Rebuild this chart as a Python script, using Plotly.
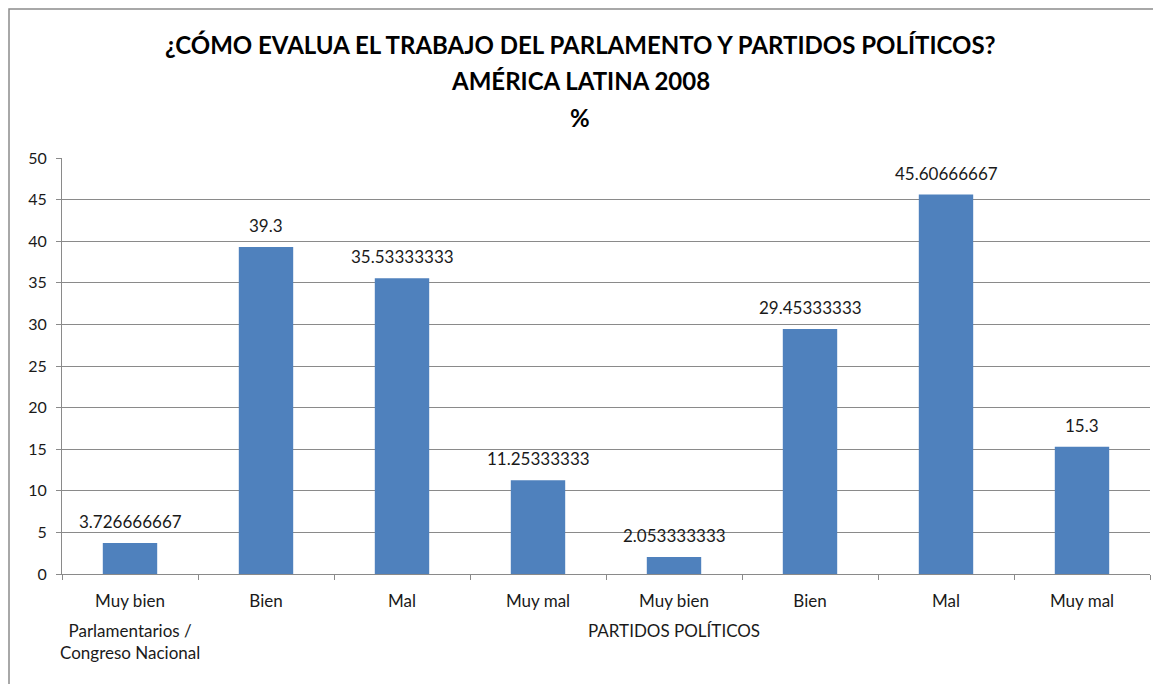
import plotly.graph_objects as go

# ---- data ----
groups = ["Parlamentarios /<br>Congreso Nacional"] * 4 + ["PARTIDOS POLÍTICOS"] * 4
ratings = ["Muy bien", "Bien", "Mal", "Muy mal", "Muy bien", "Bien", "Mal", "Muy mal"]
values = [3.726666667, 39.3, 35.53333333, 11.25333333,
          2.053333333, 29.45333333, 45.60666667, 15.3]
value_labels = ["3.726666667", "39.3", "35.53333333", "11.25333333",
                "2.053333333", "29.45333333", "45.60666667", "15.3"]
y_ticks = [0, 5, 10, 15, 20, 25, 30, 35, 40, 45, 50]
title_lines = ["¿CÓMO EVALUA EL TRABAJO DEL PARLAMENTO Y PARTIDOS POLÍTICOS?",
               "AMÉRICA LATINA 2008", "%"]

OFF = 8  # default page body margin
W, H = 1161 - OFF, 684 - OFF
L, R, T, B = 62 - OFF, 11, 158 - OFF, 110
FONT = "Lato"
BAR = "#4F81BD"
GRID = "#8a8a8a"
TXT = "#1a1a1a"

keys = [f"{i}" for i in range(len(values))]

fig = go.Figure()
fig.add_trace(go.Bar(x=keys, y=values, marker=dict(color=BAR, line=dict(width=0)),
                     width=0.4, hoverinfo="skip"))

# data labels
for k, v, lab in zip(keys, values, value_labels):
    fig.add_annotation(x=k, y=v, xref="x", yref="y", text=lab, showarrow=False,
                       yanchor="bottom", yshift=9,
                       font=dict(family=FONT, size=17, color=TXT))


def px_x(p):
    return (p - OFF - L) / (W - L - R)


def px_y(p):
    return (H - B - (p - OFF)) / (H - T - B)


# group labels under the first category of each group
seen = []
for k, g in zip(keys, groups):
    if g not in seen:
        seen.append(g)
        fig.add_annotation(x=k, y=0, xref="x", yref="paper", text=g, showarrow=False,
                           yanchor="top", yshift=-44, align="center",
                           font=dict(family=FONT, size=17, color=TXT))

# title lines
for line, yp in zip(title_lines, [45, 80, 117]):
    fig.add_annotation(x=px_x(580), y=px_y(yp), xref="paper", yref="paper",
                       yanchor="middle", xanchor="center",
                       text=f"<b>{line}</b>", showarrow=False,
                       font=dict(family=FONT, size=24, color="#000000"))

# chart border (left and top visible)
fig.add_shape(type="rect", xref="paper", yref="paper",
              x0=px_x(9), x1=px_x(1300), y0=px_y(9), y1=px_y(900),
              line=dict(color="#8c8c8c", width=1.5), layer="below")

fig.update_layout(
    width=W, height=H,
    margin=dict(l=L, r=R, t=T, b=B, autoexpand=False),
    paper_bgcolor="white", plot_bgcolor="white",
    showlegend=False,
    xaxis=dict(type="category", tickvals=keys, ticktext=ratings,
               tickson="boundaries", ticks="outside", ticklen=5,
               tickcolor=GRID, showline=True, linecolor=GRID, linewidth=1,
               showgrid=False, range=[-0.5, len(keys) - 0.5],
               ticklabelstandoff=12, automargin=False,
               tickfont=dict(family=FONT, size=17, color=TXT)),
    yaxis=dict(range=[0, 50], tickvals=y_ticks, showgrid=True, gridcolor=GRID,
               gridwidth=1, showline=True, linecolor=GRID, ticks="outside",
               ticklen=5, tickcolor=GRID, zeroline=False,
               ticklabelstandoff=6, automargin=False,
               tickfont=dict(family=FONT, size=16, color=TXT)),
)

fig.write_html("out.html")
